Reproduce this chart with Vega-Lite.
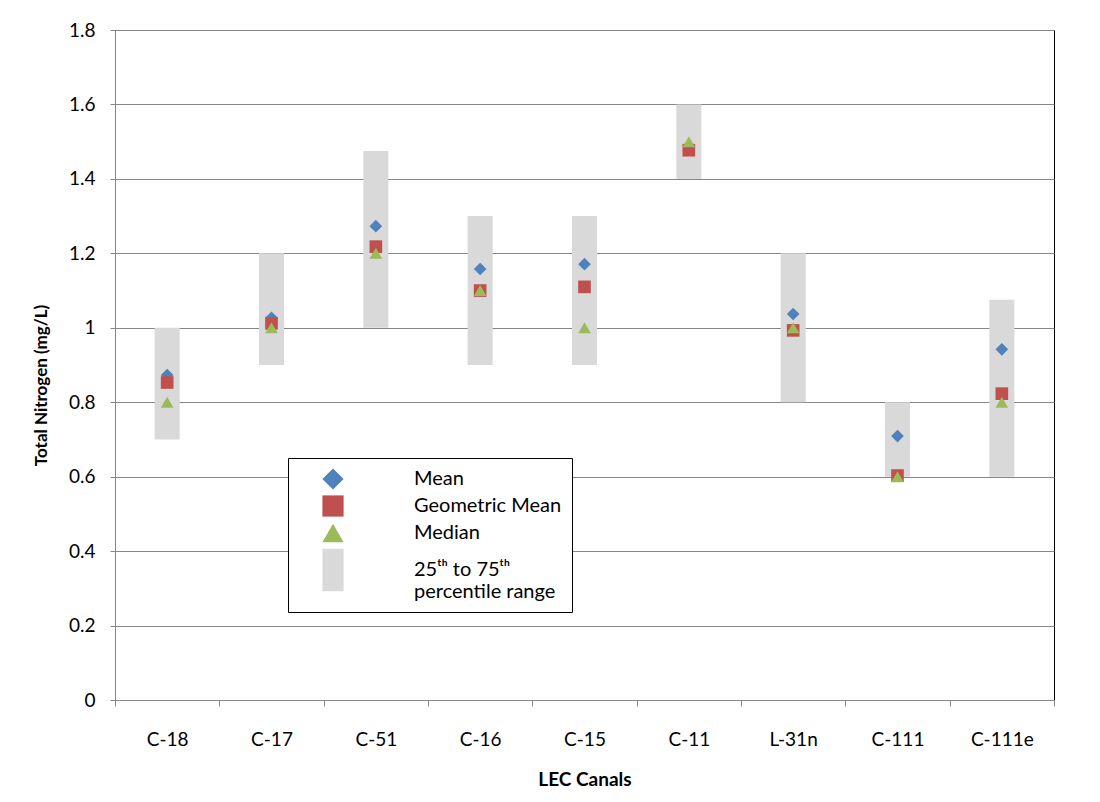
{
  "$schema": "https://vega.github.io/schema/vega-lite/v6.json",
  "width": 939,
  "height": 670,
  "autosize": "none",
  "padding": {"left": 115, "top": 30, "right": 46, "bottom": 102},
  "background": "white",
  "config": {
    "font": "Lato",
    "view": {"stroke": "#000000", "strokeWidth": 1},
    "legend": {
      "orient": "none",
      "legendX": 173,
      "legendY": 428,
      "direction": "vertical",
      "padding": 10,
      "strokeColor": "#000000",
      "fillColor": "#ffffff",
      "symbolOffset": 24,
      "labelOffset": 70,
      "labelFont": "Lato",
      "labelFontSize": 20,
      "labelColor": "#000000",
      "labelLimit": 300,
      "rowPadding": 5,
      "symbolSize": 450,
      "symbolStrokeWidth": 0
    }
  },
  "datasets": {
    "ranges": [
      {"canal": "C-18", "p25": 0.7, "p75": 1.0, "series": "Range"},
      {"canal": "C-17", "p25": 0.9, "p75": 1.2, "series": "Range"},
      {"canal": "C-51", "p25": 1.0, "p75": 1.475, "series": "Range"},
      {"canal": "C-16", "p25": 0.9, "p75": 1.3, "series": "Range"},
      {"canal": "C-15", "p25": 0.9, "p75": 1.3, "series": "Range"},
      {"canal": "C-11", "p25": 1.4, "p75": 1.6, "series": "Range"},
      {"canal": "L-31n", "p25": 0.8, "p75": 1.2, "series": "Range"},
      {"canal": "C-111", "p25": 0.6, "p75": 0.8, "series": "Range"},
      {"canal": "C-111e", "p25": 0.6, "p75": 1.075, "series": "Range"}
    ],
    "points": [
      {"canal": "C-18", "series": "Mean", "value": 0.873},
      {"canal": "C-17", "series": "Mean", "value": 1.027},
      {"canal": "C-51", "series": "Mean", "value": 1.273},
      {"canal": "C-16", "series": "Mean", "value": 1.158},
      {"canal": "C-15", "series": "Mean", "value": 1.171},
      {"canal": "C-11", "series": "Mean", "value": 1.485},
      {"canal": "L-31n", "series": "Mean", "value": 1.037},
      {"canal": "C-111", "series": "Mean", "value": 0.709},
      {"canal": "C-111e", "series": "Mean", "value": 0.942},
      {"canal": "C-18", "series": "Geometric Mean", "value": 0.853},
      {"canal": "C-17", "series": "Geometric Mean", "value": 1.012},
      {"canal": "C-51", "series": "Geometric Mean", "value": 1.218},
      {"canal": "C-16", "series": "Geometric Mean", "value": 1.1},
      {"canal": "C-15", "series": "Geometric Mean", "value": 1.11},
      {"canal": "C-11", "series": "Geometric Mean", "value": 1.477},
      {"canal": "L-31n", "series": "Geometric Mean", "value": 0.993},
      {"canal": "C-111", "series": "Geometric Mean", "value": 0.603},
      {"canal": "C-111e", "series": "Geometric Mean", "value": 0.823},
      {"canal": "C-18", "series": "Median", "value": 0.8},
      {"canal": "C-17", "series": "Median", "value": 1.0},
      {"canal": "C-51", "series": "Median", "value": 1.2},
      {"canal": "C-16", "series": "Median", "value": 1.1},
      {"canal": "C-15", "series": "Median", "value": 1.0},
      {"canal": "C-11", "series": "Median", "value": 1.5},
      {"canal": "L-31n", "series": "Median", "value": 1.0},
      {"canal": "C-111", "series": "Median", "value": 0.6},
      {"canal": "C-111e", "series": "Median", "value": 0.8}
    ]
  },
  "layer": [
    {
      "data": {"name": "ranges"},
      "mark": {"type": "bar", "width": {"band": 0.24}, "opacity": 1},
      "encoding": {
        "x": {
          "field": "canal",
          "type": "nominal",
          "sort": ["C-18", "C-17", "C-51", "C-16", "C-15", "C-11", "L-31n", "C-111", "C-111e"],
          "scale": {"paddingInner": 0, "paddingOuter": 0},
          "title": "LEC Canals",
          "axis": {
            "labelAngle": 0,
            "labelFont": "Lato",
            "labelFontSize": 19,
            "labelColor": "#000000",
            "labelPadding": 24,
            "tickSize": 6,
            "tickColor": "#868686",
            "tickBand": "extent",
            "domainColor": "#868686",
            "grid": false,
            "titleFont": "Lato",
            "titleFontSize": 19,
            "titleFontWeight": "bold",
            "titleColor": "#000000",
            "titlePadding": 21
          }
        },
        "y": {
          "field": "p25",
          "type": "quantitative",
          "scale": {"domain": [0, 1.8], "nice": false, "zero": true},
          "title": "Total Nitrogen (mg/L)",
          "axis": {
            "values": [0, 0.2, 0.4, 0.6, 0.8, 1.0, 1.2, 1.4, 1.6, 1.8],
            "format": ".1~f",
            "labelFont": "Lato",
            "labelFontSize": 19,
            "labelColor": "#000000",
            "labelPadding": 15,
            "tickSize": 5,
            "tickColor": "#868686",
            "domainColor": "#868686",
            "grid": true,
            "gridColor": "#868686",
            "gridWidth": 1,
            "titleFont": "Lato",
            "titleFontSize": 17,
            "titleFontWeight": "bold",
            "titleColor": "#000000",
            "titlePadding": 18,
            "titleY": 355
          }
        },
        "y2": {"field": "p75"},
        "color": {
          "field": "series",
          "type": "nominal",
          "scale": {
            "domain": ["Mean", "Geometric Mean", "Median", "Range"],
            "range": ["#4F81BD", "#C0504D", "#9BBB59", "#D9D9D9"]
          },
          "legend": {
            "title": null,
            "labelExpr": "datum.label == 'Range' ? ['25ᵗʰ to 75ᵗʰ', 'percentile range'] : datum.label"
          }
        }
      }
    },
    {
      "data": {"name": "points"},
      "mark": {"type": "point", "filled": true, "size": 160, "opacity": 1, "strokeWidth": 0},
      "encoding": {
        "x": {
          "field": "canal",
          "type": "nominal",
          "sort": ["C-18", "C-17", "C-51", "C-16", "C-15", "C-11", "L-31n", "C-111", "C-111e"]
        },
        "y": {"field": "value", "type": "quantitative"},
        "color": {"field": "series", "type": "nominal"},
        "shape": {
          "field": "series",
          "type": "nominal",
          "scale": {
            "domain": ["Mean", "Geometric Mean", "Median", "Range"],
            "range": ["diamond", "square", "triangle-up", "M-1,-2L1,-2L1,2L-1,2Z"]
          },
          "legend": {
            "title": null,
            "labelExpr": "datum.label == 'Range' ? ['25ᵗʰ to 75ᵗʰ', 'percentile range'] : datum.label"
          }
        }
      }
    }
  ]
}
